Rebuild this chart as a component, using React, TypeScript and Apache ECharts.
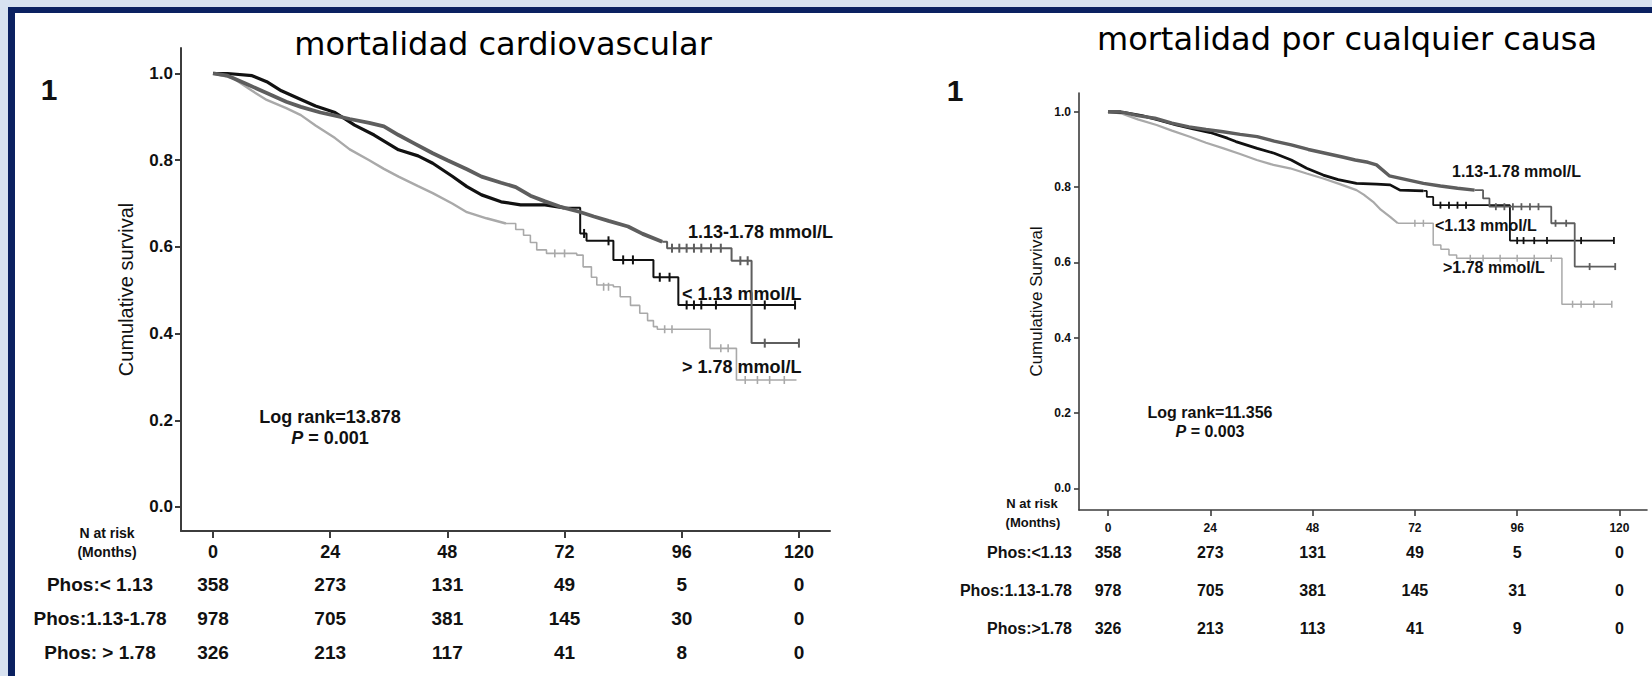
import { useEffect, useRef } from "react";
import * as echarts from "echarts";

// Shared axis ticks
const MONTH_TICKS = [0, 24, 48, 72, 96, 120];
const SURVIVAL_TICKS = [0, 0.2, 0.4, 0.6, 0.8, 1.0];

// ---- Cardiovascular mortality: Kaplan–Meier points [month, cumulative survival] ----
const CV_MID_DENSE = [
  [0, 1.0], [3, 0.995], [7, 0.975], [11, 0.955], [15, 0.935], [18, 0.923], [22, 0.91],
  [25, 0.903], [28, 0.895], [32, 0.886], [35, 0.878], [38, 0.858], [41, 0.84], [45, 0.816],
  [48, 0.8], [52, 0.779], [55, 0.762], [59, 0.748], [62, 0.738], [65, 0.718], [68, 0.705],
  [71, 0.693], [75, 0.681], [78, 0.67], [81, 0.66], [85, 0.647], [88, 0.63], [92, 0.612],
];
const CV_MID_STEPS = [[93, 0.597], [106.2, 0.568], [110.3, 0.378], [120, 0.378]];
const CV_MID_CENSOR = [
  [94, 0.597], [95.5, 0.597], [97, 0.597], [98.5, 0.597], [100, 0.597], [102, 0.597],
  [104, 0.597], [108, 0.568], [109.5, 0.568], [113, 0.378], [120, 0.378],
];

const CV_LOW_DENSE = [
  [0, 1.0], [3, 1.0], [8, 0.995], [11, 0.981], [14, 0.96], [18, 0.94], [21, 0.925],
  [25, 0.91], [29, 0.881], [33, 0.858], [38, 0.824], [42, 0.81], [45, 0.793], [49, 0.763],
  [52, 0.739], [55, 0.72], [59, 0.704], [63, 0.697], [68, 0.697], [72, 0.69],
];
const CV_LOW_STEPS = [
  [75.2, 0.631], [76.5, 0.614], [82, 0.57], [90.2, 0.53], [95.3, 0.466], [119.2, 0.466],
];
const CV_LOW_CENSOR = [
  [76, 0.631], [81, 0.614], [84, 0.57], [86, 0.57], [91.5, 0.53], [93.5, 0.53],
  [97, 0.466], [98.5, 0.466], [100, 0.466], [103, 0.466], [113, 0.466], [119.2, 0.466],
];

const CV_HIGH_DENSE = [
  [0, 1.0], [4, 0.99], [8, 0.96], [11, 0.939], [15, 0.92], [18, 0.904], [21, 0.88],
  [25, 0.851], [28, 0.825], [32, 0.8], [35, 0.78], [38, 0.762], [42, 0.74], [45, 0.724],
  [49, 0.7], [52, 0.68], [56, 0.666], [60, 0.654],
];
const CV_HIGH_STEPS = [
  [62, 0.64], [63.6, 0.627], [65, 0.61], [66.3, 0.593], [68.3, 0.585], [74.5, 0.581],
  [75.8, 0.554], [77.5, 0.53], [78.6, 0.512], [82, 0.508], [83.4, 0.485], [85.5, 0.465],
  [87.4, 0.447], [89, 0.43], [90.2, 0.416], [91, 0.41], [101.8, 0.366], [107.2, 0.293],
  [119.5, 0.293],
];
const CV_HIGH_CENSOR = [
  [70, 0.585], [72, 0.585], [80, 0.508], [81, 0.508], [92.5, 0.41], [94, 0.41],
  [104, 0.366], [105.5, 0.366], [109, 0.293], [111.5, 0.293], [114, 0.293], [117, 0.293],
];

const CV_RISK_ROWS = ["Phos:< 1.13", "Phos:1.13-1.78", "Phos: > 1.78"];
const CV_RISK_LOW = [358, 273, 131, 49, 5, 0];
const CV_RISK_MID = [978, 705, 381, 145, 30, 0];
const CV_RISK_HIGH = [326, 213, 117, 41, 8, 0];

// ---- All-cause mortality ----
const AC_MID_DENSE = [
  [0, 1.0], [3, 1.0], [7, 0.99], [11, 0.983], [15, 0.97], [19, 0.96], [23, 0.953],
  [27, 0.947], [31, 0.94], [35, 0.934], [39, 0.922], [43, 0.912], [47, 0.9], [51, 0.89],
  [55, 0.88], [58, 0.872], [61, 0.866], [63, 0.859], [66, 0.83], [70, 0.82], [74, 0.81],
  [78, 0.803], [82, 0.797], [86, 0.792],
];
const AC_MID_STEPS = [[88, 0.77], [89.5, 0.748], [104, 0.704], [109.5, 0.589], [119, 0.589]];
const AC_MID_CENSOR = [
  [91, 0.748], [93, 0.748], [95, 0.748], [97, 0.748], [99, 0.748], [101, 0.748],
  [105, 0.704], [107.5, 0.704], [113, 0.589], [119, 0.589],
];

const AC_LOW_DENSE = [
  [0, 1.0], [4, 0.998], [8, 0.99], [12, 0.978], [16, 0.965], [20, 0.955], [24, 0.945],
  [28, 0.93], [30, 0.921], [35, 0.903], [39, 0.89], [43, 0.872], [46.6, 0.85], [50.5, 0.832],
  [54, 0.82], [58.3, 0.81], [63, 0.808], [66.2, 0.806], [68.5, 0.792], [74, 0.79],
];
const AC_LOW_STEPS = [[74.8, 0.774], [76.3, 0.752], [94.3, 0.658], [118.7, 0.658]];
const AC_LOW_CENSOR = [
  [78, 0.752], [80, 0.752], [82, 0.752], [84, 0.752], [96, 0.658], [97.5, 0.658],
  [100, 0.658], [103, 0.658], [111, 0.658], [118.7, 0.658],
];

const AC_HIGH_DENSE = [
  [0, 1.0], [3, 0.996], [7, 0.98], [11.4, 0.965], [15, 0.95], [19.2, 0.934], [23, 0.918],
  [27.1, 0.903], [31, 0.888], [34.9, 0.872], [38.8, 0.859], [42.7, 0.85], [46.6, 0.836],
  [50.5, 0.823], [54.4, 0.808], [58.3, 0.792], [60, 0.78], [62.2, 0.761], [64, 0.74],
  [66.2, 0.721], [68, 0.704],
];
const AC_HIGH_STEPS = [
  [76.3, 0.646], [78.1, 0.635], [80, 0.62], [81.8, 0.611], [106.5, 0.489], [118.2, 0.489],
];
const AC_HIGH_CENSOR = [
  [72, 0.704], [74, 0.704], [85, 0.611], [88, 0.611], [92, 0.611], [96, 0.611],
  [100, 0.611], [104, 0.611], [109, 0.489], [111, 0.489], [114, 0.489], [118.2, 0.489],
];

const AC_RISK_ROWS = ["Phos:<1.13", "Phos:1.13-1.78", "Phos:>1.78"];
const AC_RISK_LOW = [358, 273, 131, 49, 5, 0];
const AC_RISK_MID = [978, 705, 381, 145, 31, 0];
const AC_RISK_HIGH = [326, 213, 113, 41, 9, 0];

const FONT = "'Liberation Sans', Arial, sans-serif";
const TITLE_FONT = "'DejaVu Sans', sans-serif";
const INK = "#111111";
const AXIS = "#3c3c3c";

const COLOR_LOW = "#111111";
const COLOR_MID = "#5e5e5e";
const COLOR_HIGH = "#a9a9a9";

type Pt = number[];

function curve(
  dense: Pt[],
  steps: Pt[],
  censor: Pt[],
  color: string,
  wDense: number,
  wStep: number,
  axis: number,
  mark: number[],
  z: number
) {
  const common = { xAxisIndex: axis, yAxisIndex: axis, silent: true, z };
  return [
    {
      type: "line",
      ...common,
      data: dense,
      symbol: "none",
      lineStyle: { color, width: wDense },
    },
    {
      type: "line",
      ...common,
      data: [dense[dense.length - 1], ...steps],
      step: "end",
      symbol: "none",
      lineStyle: { color, width: wStep },
    },
    {
      type: "scatter",
      ...common,
      data: censor,
      symbol: "rect",
      symbolSize: mark,
      itemStyle: { color, opacity: 1 },
    },
  ];
}

function riskTable(rows: number[][], axis: number, fontSize: number) {
  const data: number[][] = [];
  rows.forEach((vals, r) =>
    MONTH_TICKS.forEach((m, i) => data.push([m, r, vals[i]]))
  );
  return {
    type: "scatter",
    xAxisIndex: axis,
    yAxisIndex: axis,
    silent: true,
    data,
    symbolSize: 1,
    itemStyle: { color: "#ffffff", opacity: 1 },
    label: {
      show: true,
      position: "inside",
      formatter: (p: any) => String(p.value[2]),
      fontFamily: FONT,
      fontSize,
      fontWeight: "bold",
      color: INK,
      opacity: 1,
      textBorderWidth: 0,
    },
  };
}

function plotAxes(
  grid: number,
  xMin: number,
  xMax: number,
  yMin: number,
  yMax: number,
  o: { lw: number; tick: number; xFont: number; yFont: number; name: string; nameFont: number; nameGap: number }
) {
  const line = { show: true, onZero: false, lineStyle: { color: AXIS, width: o.lw } };
  const x = {
    type: "value",
    gridIndex: grid,
    min: xMin,
    max: xMax,
    axisLine: line,
    axisTick: { show: true, customValues: MONTH_TICKS, length: o.tick, lineStyle: { color: AXIS, width: o.lw } },
    axisLabel: {
      customValues: MONTH_TICKS,
      margin: 12,
      fontFamily: FONT,
      fontSize: o.xFont,
      fontWeight: "bold",
      color: INK,
    },
    splitLine: { show: false },
  };
  const y = {
    type: "value",
    gridIndex: grid,
    min: yMin,
    max: yMax,
    name: o.name,
    nameLocation: "middle",
    nameGap: o.nameGap,
    nameTextStyle: { fontFamily: FONT, fontSize: o.nameFont, color: INK },
    axisLine: line,
    axisTick: { show: true, customValues: SURVIVAL_TICKS, length: o.tick - 1, lineStyle: { color: AXIS, width: o.lw } },
    axisLabel: {
      customValues: SURVIVAL_TICKS,
      margin: 8,
      formatter: (v: number) => v.toFixed(1),
      fontFamily: FONT,
      fontSize: o.yFont,
      fontWeight: "bold",
      color: INK,
    },
    splitLine: { show: false },
  };
  return { x, y };
}

function tableAxes(grid: number, xMin: number, xMax: number, rows: string[], align: string, margin: number, fontSize: number) {
  return {
    x: { type: "value", gridIndex: grid, min: xMin, max: xMax, show: false },
    y: {
      type: "category",
      gridIndex: grid,
      data: rows,
      inverse: true,
      axisLine: { show: false },
      axisTick: { show: false },
      axisLabel: { align, margin, fontFamily: FONT, fontSize, fontWeight: "bold", color: INK },
    },
  };
}

function text(x: number, y: number, str: string, size: number, extra: any = {}) {
  return {
    type: "text",
    x,
    y,
    silent: true,
    style: {
      text: str,
      fontFamily: FONT,
      fontSize: size,
      fontWeight: "bold",
      fill: INK,
      align: "left",
      verticalAlign: "middle",
      ...extra,
    },
  };
}

export default function App() {
  const ref = useRef<HTMLDivElement>(null);

  useEffect(() => {
    if (!ref.current) return;
    const chart = echarts.init(ref.current, null, { renderer: "svg" });

    const cvPlot = plotAxes(0, -6.55, 126.36, -0.0554, 1.0588, {
      lw: 2, tick: 7, xFont: 18, yFont: 17, name: "Cumulative survival", nameFont: 20, nameGap: 45,
    });
    const cvTable = tableAxes(1, -6.55, 126.36, CV_RISK_ROWS, "center", 81, 19);
    const acPlot = plotAxes(2, -6.8, 126.46, -0.0576, 1.05, {
      lw: 1.6, tick: 6, xFont: 12, yFont: 12, name: "Cumulative Survival", nameFont: 17, nameGap: 34,
    });
    const acTable = tableAxes(3, -6.8, 126.46, AC_RISK_ROWS, "right", 7, 16);

    const rich = (size: number) => ({
      i: { fontStyle: "italic", fontWeight: "bold", fontSize: size, fontFamily: FONT, fill: INK },
    });

    chart.setOption({
      animation: false,
      backgroundColor: "transparent",
      grid: [
        { left: 181, top: 48, width: 649, height: 483 },
        { left: 181, top: 567, width: 649, height: 102 },
        { left: 1079, top: 93, width: 568, height: 417 },
        { left: 1079, top: 533, width: 568, height: 115 },
      ],
      xAxis: [cvPlot.x, cvTable.x, acPlot.x, acTable.x],
      yAxis: [cvPlot.y, cvTable.y, acPlot.y, acTable.y],
      series: [
        ...curve(CV_HIGH_DENSE, CV_HIGH_STEPS, CV_HIGH_CENSOR, COLOR_HIGH, 2.4, 1.6, 0, [1.6, 8], 3),
        ...curve(CV_LOW_DENSE, CV_LOW_STEPS, CV_LOW_CENSOR, COLOR_LOW, 3.2, 2, 0, [2, 9], 4),
        ...curve(CV_MID_DENSE, CV_MID_STEPS, CV_MID_CENSOR, COLOR_MID, 3.8, 2, 0, [2, 9], 5),
        riskTable([CV_RISK_LOW, CV_RISK_MID, CV_RISK_HIGH], 1, 19),
        ...curve(AC_HIGH_DENSE, AC_HIGH_STEPS, AC_HIGH_CENSOR, COLOR_HIGH, 2.2, 1.5, 2, [1.5, 7], 3),
        ...curve(AC_LOW_DENSE, AC_LOW_STEPS, AC_LOW_CENSOR, COLOR_LOW, 2.8, 1.8, 2, [1.8, 7], 4),
        ...curve(AC_MID_DENSE, AC_MID_STEPS, AC_MID_CENSOR, COLOR_MID, 3.4, 1.8, 2, [1.8, 7], 5),
        riskTable([AC_RISK_LOW, AC_RISK_MID, AC_RISK_HIGH], 3, 16),
      ],
      graphic: [
        text(503, 44, "mortalidad cardiovascular", 32, {
          fontFamily: TITLE_FONT, fontWeight: "normal", align: "center", fill: "#000",
        }),
        text(1347, 39, "mortalidad por cualquier causa", 32, {
          fontFamily: TITLE_FONT, fontWeight: "normal", align: "center", fill: "#000",
        }),
        text(49, 89, "1", 30, { align: "center" }),
        text(955, 90, "1", 30, { align: "center" }),

        text(107, 533, "N at risk", 14, { align: "center" }),
        text(107, 552, "(Months)", 14, { align: "center" }),
        text(1032, 503, "N at risk", 13, { align: "center" }),
        text(1033, 522, "(Months)", 13, { align: "center" }),

        text(330, 417, "Log rank=13.878", 18, { align: "center" }),
        text(330, 438, "{i|P} = 0.001", 18, { align: "center", rich: rich(18) }),
        text(1210, 412, "Log rank=11.356", 16, { align: "center" }),
        text(1210, 431, "{i|P} = 0.003", 16, { align: "center", rich: rich(16) }),

        text(688, 232, "1.13-1.78 mmol/L", 18),
        text(682, 294, "< 1.13 mmol/L", 18),
        text(682, 367, "> 1.78 mmol/L", 18),
        text(1452, 171, "1.13-1.78 mmol/L", 16),
        text(1435, 225, "<1.13 mmol/L", 16),
        text(1443, 267, ">1.78 mmol/L", 16),
      ],
    });

    return () => chart.dispose();
  }, []);

  return (
    <div style={{ position: "fixed", left: 0, top: 0, width: 1652, height: 676, background: "#d8e2f0" }}>
      <div
        style={{
          position: "absolute",
          left: 8,
          top: 7,
          width: 1644,
          height: 669,
          background: "#ffffff",
          borderTop: "6px solid #0b2161",
          borderLeft: "7px solid #0b2161",
          boxSizing: "border-box",
        }}
      />
      <div ref={ref} style={{ position: "absolute", left: 0, top: 0, width: 1652, height: 676 }} />
    </div>
  );
}
